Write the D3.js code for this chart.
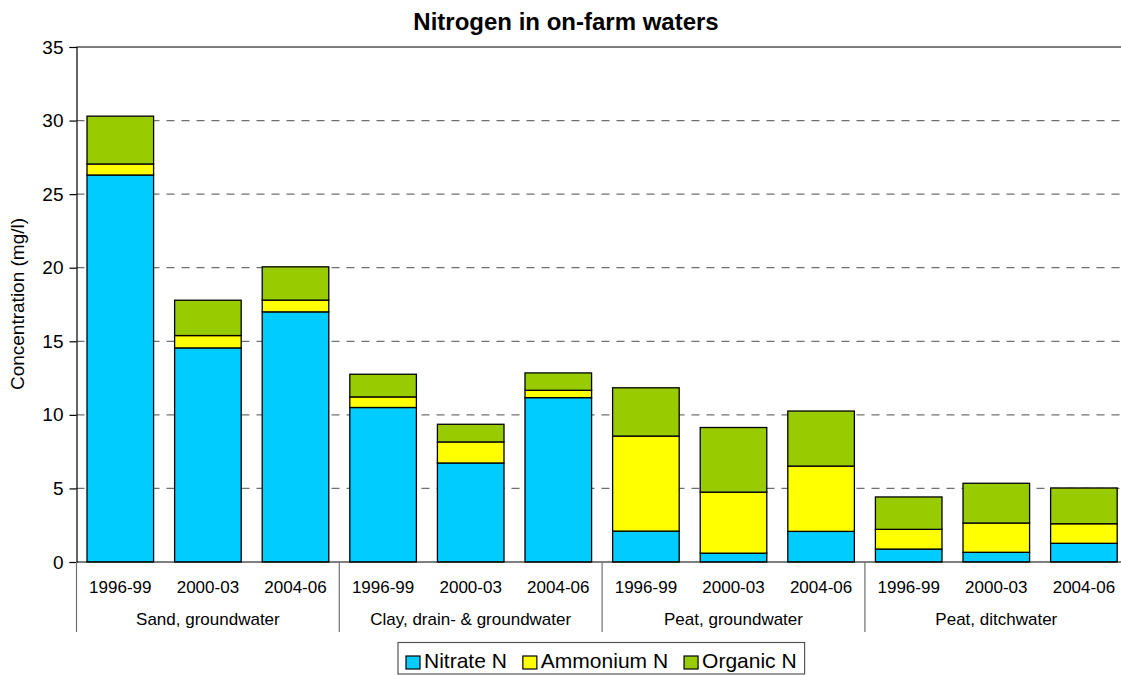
<!DOCTYPE html>
<html><head><meta charset="utf-8">
<script src="https://cdn.jsdelivr.net/npm/d3@7"></script>
<style>
html,body{margin:0;padding:0;background:#fff;overflow:hidden}
text{font-family:Arial,"Liberation Sans",sans-serif;fill:#000}
</style></head>
<body>
<svg id="chart" width="1121" height="675"></svg>
<script>
const groups = ["Sand, groundwater","Clay, drain- & groundwater","Peat, groundwater","Peat, ditchwater"];
const periods = ["1996-99","2000-03","2004-06"];
const seriesNames = ["Nitrate N","Ammonium N","Organic N"];
const nitrate  = [26.3, 14.55, 17.0, 10.5, 6.73, 11.17, 2.1, 0.6, 2.08, 0.88, 0.66, 1.27];
const ammonium = [0.75, 0.84, 0.8, 0.72, 1.43, 0.5, 6.46, 4.15, 4.44, 1.34, 1.99, 1.33];
const organic  = [3.25, 2.4, 2.26, 1.54, 1.2, 1.18, 3.28, 4.39, 3.74, 2.2, 2.7, 2.43];
const yTicks = [0,5,10,15,20,25,30,35];
const colors = ["#00CCFF","#FFFF00","#99CC00"];

const svg = d3.select("#chart");
const L = 76.5, R = 1127.7, T = 47, B = 562;

const cats = [];
groups.forEach((g,gi)=>periods.forEach((p,pi)=>cats.push({key:gi+"|"+p, group:g, period:p})));
const rows = cats.map((c,i)=>({key:c.key, "Nitrate N":nitrate[i], "Ammonium N":ammonium[i], "Organic N":organic[i]}));

const x = d3.scaleBand().domain(cats.map(c=>c.key)).range([L,R]).paddingInner(0.24).paddingOuter(0.12);
const y = d3.scaleLinear().domain([0,35]).range([B,T]);

// gridlines
svg.append("g").selectAll("line").data(yTicks.filter(t=>t>0 && t<35)).join("line")
  .attr("x1",L).attr("x2",1121).attr("y1",d=>y(d)).attr("y2",d=>y(d))
  .attr("stroke","#707070").attr("stroke-width",1.2).attr("stroke-dasharray","8,7");
// top border
svg.append("line").attr("x1",L).attr("x2",1121).attr("y1",y(35)).attr("y2",y(35))
  .attr("stroke","#000").attr("stroke-width",1.2);

// stacked bars
const stack = d3.stack().keys(seriesNames)(rows);
svg.append("g").selectAll("g").data(stack).join("g")
  .attr("fill",(d,i)=>colors[i])
  .selectAll("rect").data(d=>d).join("rect")
  .attr("x",d=>x(d.data.key)).attr("width",x.bandwidth())
  .attr("y",d=>y(d[1])).attr("height",d=>y(d[0])-y(d[1]))
  .attr("stroke","#000").attr("stroke-width",1.3);

// y axis
const yAxis = svg.append("g").attr("transform",`translate(${L},0)`)
  .call(d3.axisLeft(y).tickValues(yTicks).tickSize(7).tickPadding(6).tickFormat(d3.format("d")));
yAxis.select(".domain").attr("stroke","#000").attr("stroke-width",1.2);
yAxis.selectAll(".tick line").attr("stroke","#000").attr("stroke-width",1.2);
yAxis.selectAll(".tick text").attr("font-size",19).attr("font-family","Arial, 'Liberation Sans', sans-serif").attr("fill","#000");

// x axis line
svg.append("line").attr("x1",L).attr("x2",1121).attr("y1",B).attr("y2",B).attr("stroke","#000").attr("stroke-width",1.2);

// period labels
svg.append("g").selectAll("text").data(cats).join("text")
  .attr("x",d=>x(d.key)+x.bandwidth()/2).attr("y",593)
  .attr("text-anchor","middle").attr("font-size",17).text(d=>d.period);

// group separators & labels
const groupStart = gi => x(gi+"|"+periods[0]) - x.step()*x.paddingInner()/2;
const groupEnd = gi => x(gi+"|"+periods[periods.length-1]) + x.bandwidth() + x.step()*x.paddingInner()/2;
const seps = groups.map((g,gi)=>groupStart(gi));
svg.append("g").selectAll("line").data(seps).join("line")
  .attr("x1",d=>d).attr("x2",d=>d).attr("y1",B).attr("y2",632)
  .attr("stroke","#707070").attr("stroke-width",1.2);
svg.append("g").selectAll("text").data(groups).join("text")
  .attr("x",(d,gi)=>(groupStart(gi)+groupEnd(gi))/2).attr("y",625)
  .attr("text-anchor","middle").attr("font-size",17).text(d=>d);

// title
svg.append("text").attr("x",566).attr("y",30).attr("text-anchor","middle")
  .attr("font-size",24).attr("font-weight","bold").text("Nitrogen in on-farm waters");

// y label
svg.append("text").attr("transform","translate(24,304) rotate(-90)").attr("text-anchor","middle")
  .attr("font-size",19).text("Concentration (mg/l)");

// legend
const lg = svg.append("g");
const box = lg.append("rect").attr("x",398).attr("y",642.5).attr("height",31.5).attr("fill","#fff")
  .attr("stroke","#555").attr("stroke-width",1.2);
let cx = 406;
seriesNames.forEach((s,i)=>{
  lg.append("rect").attr("x",cx).attr("y",656).attr("width",14).attr("height",13)
    .attr("fill",colors[i]).attr("stroke","#000").attr("stroke-width",1.2);
  const t = lg.append("text").attr("x",cx+18).attr("y",668).attr("font-size",21).text(s);
  cx += 18 + t.node().getComputedTextLength() + 16;
});
box.attr("width",cx - 398 - 8);
</script>
</body></html>
